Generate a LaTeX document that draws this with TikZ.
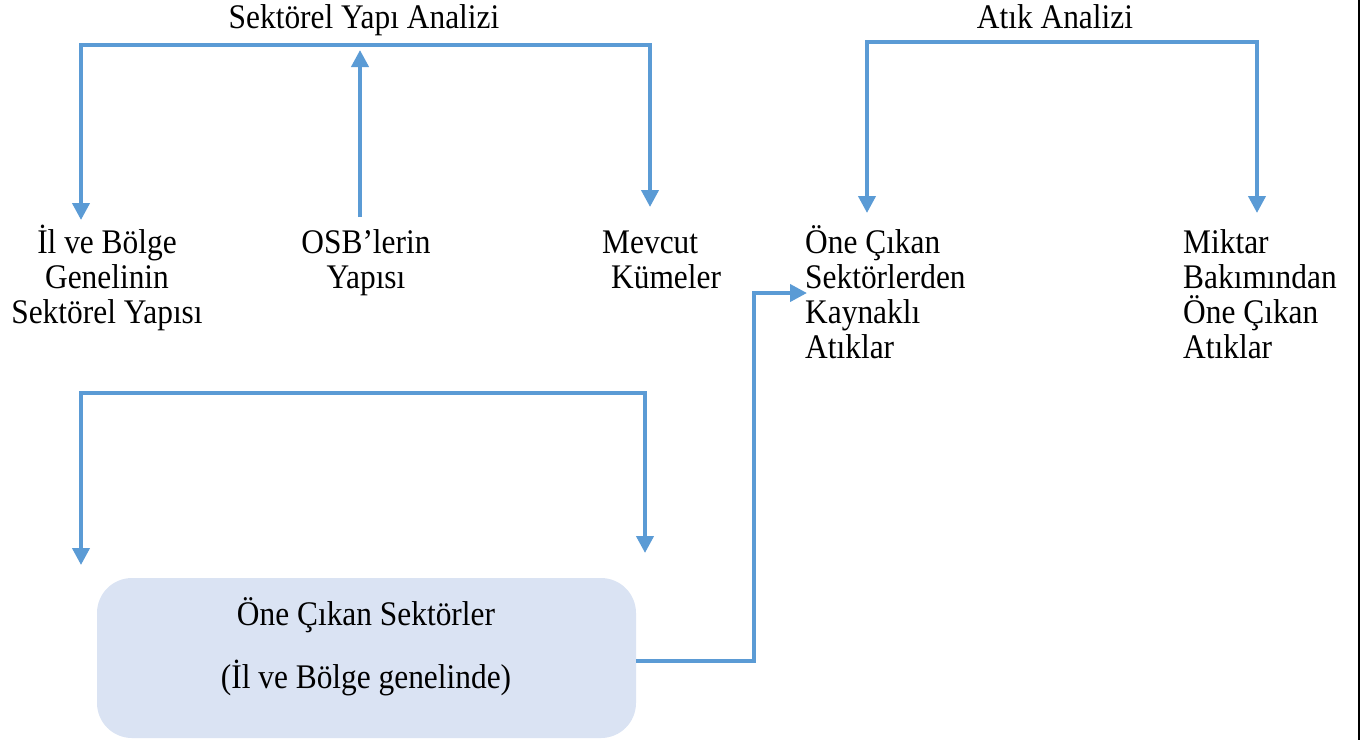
\documentclass[tikz,border=0pt]{standalone}
\usepackage{fontspec}
\setmainfont[FakeStretch=0.91]{Liberation Serif}
\usetikzlibrary{arrows.meta}
\definecolor{lineblue}{HTML}{5B9BD5}
\definecolor{boxfill}{HTML}{DAE3F3}
\begin{document}
\begin{tikzpicture}[x=1pt,y=-1pt,
  conn/.style={draw=lineblue, line width=4pt},
  tip/.tip={Triangle[width=17pt,length=17pt]},
  arr/.style={conn,-tip},
  arr2/.style={conn,tip-tip},
  lbl/.style={font=\fontsize{34.5}{35}\selectfont, inner sep=0pt, align=center, anchor=base},
  lbll/.style={font=\fontsize{34.5}{35}\selectfont, inner sep=0pt, align=left, anchor=base west},
  box/.style={fill=boxfill, draw=none, rounded corners=35pt, minimum width=539pt, minimum height=160pt, inner sep=0pt},
]
\useasboundingbox (0,0) rectangle (1371,740);

% titles
\node[lbl] (t1) at (364,28) {Sektörel Yapı Analizi};
\node[lbl] (t2) at (1055,28) {Atık Analizi};

% labels (anchor = baseline of last line)
\node[lbl] (il) at (107,323) {İl ve Bölge\\Genelinin\\Sektörel Yapısı};
\node[lbl] (osb) at (366,288) {OSB’lerin\\Yapısı};
\node[lbll] (mev) at (602,288) {Mevcut\\\hspace*{9pt}Kümeler};
\node[lbll] (one) at (805,358) {Öne Çıkan\\Sektörlerden\\Kaynaklı\\Atıklar};
\node[lbll] (mik) at (1183,358) {Miktar\\Bakımından\\Öne Çıkan\\Atıklar};

% box
\node[box] (box) at (366.5,658) {};
\node[lbl] (boxt) at (366,688) {Öne Çıkan Sektörler\\[26pt](İl ve Bölge genelinde)};

% coordinates
\coordinate (a1) at (81,220);
\coordinate (s1) at (81,45);
\coordinate (s2) at (650,45);
\coordinate (a3) at (650,207);
\coordinate (m0) at (360,217);
\coordinate (m1) at (360,50);
\coordinate (b1) at (867,213);
\coordinate (r1) at (867,42);
\coordinate (r2) at (1257,42);
\coordinate (b2) at (1257,213);
\coordinate (c1) at (81,565);
\coordinate (q1) at (81,393);
\coordinate (q2) at (645,393);
\coordinate (c2) at (645,553);
\coordinate (k1) at (754,661);
\coordinate (k2) at (754,293);
\coordinate (k3) at (807,293);
\coordinate (e1) at (1359,0);
\coordinate (e2) at (1359,740);

% connectors
\draw[arr2] (a1) -- (s1) -- (s2) -- (a3);
\draw[arr] (m0) -- (m1);
\draw[arr2] (b1) -- (r1) -- (r2) -- (b2);
\draw[arr2] (c1) -- (q1) -- (q2) -- (c2);
\draw[arr] (box.east |- k1) -- (k1) -- (k2) -- (k3);
\draw[line width=2pt] (e1) -- (e2);
\end{tikzpicture}
\end{document}
